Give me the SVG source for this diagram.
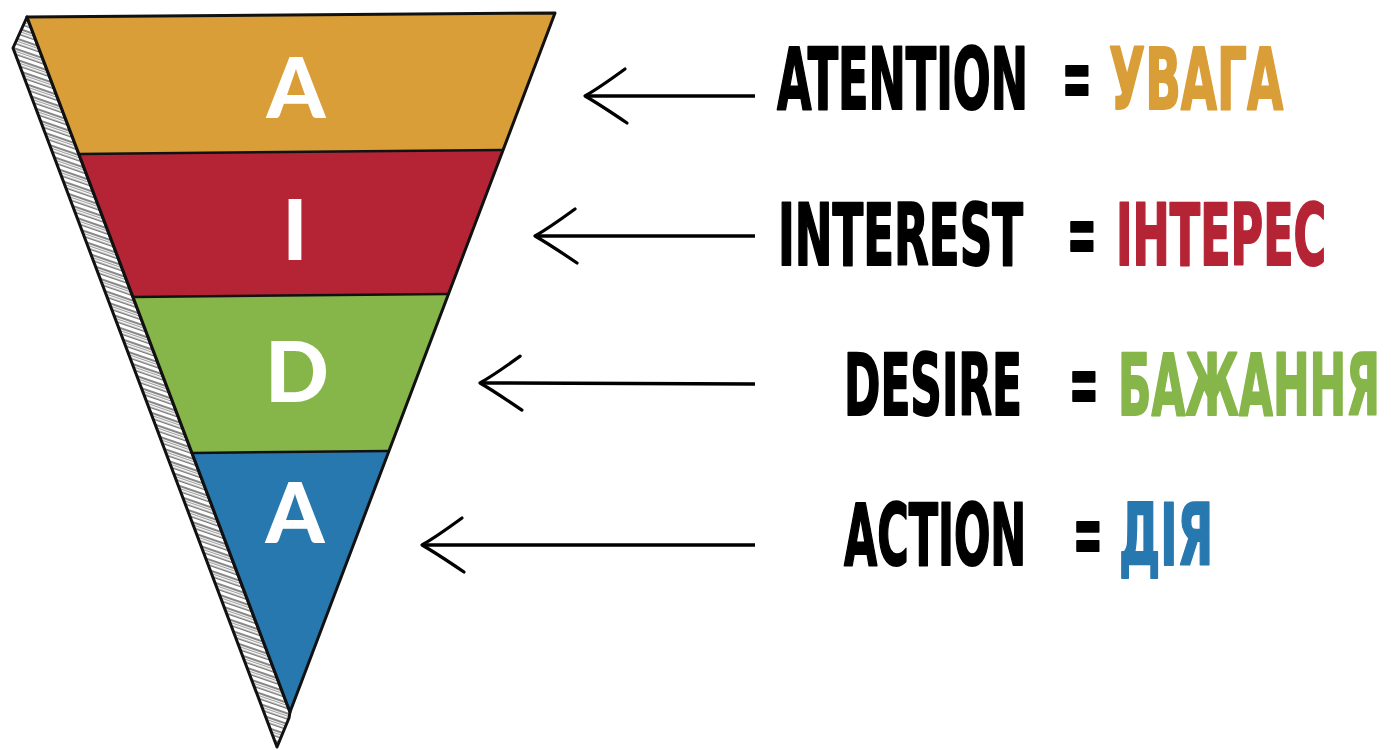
<svg xmlns="http://www.w3.org/2000/svg" width="1391" height="750" viewBox="0 0 1391 750">
  <style>
    .edge { stroke: #111; stroke-width: 3; stroke-linejoin: round; }
    .band-line { stroke: #111; stroke-width: 2.5; fill: none; }
    .letter { font-family: Lato, "Open Sans", "Liberation Sans", sans-serif; font-weight: 900; font-size: 84px; fill: #fff; text-anchor: middle; }
    .word { font-family: "Liberation Sans Narrow", "DejaVu Sans Condensed", "Liberation Sans", sans-serif; font-weight: bold; font-size: 85px; stroke-width: 2; stroke-linejoin: round; }
    .en { fill: #000; stroke: #000; }
    .eq { fill: #000; stroke: #000; }
    .c1 { fill: #D99E37; stroke: #D99E37; }
    .c2 { fill: #B52435; stroke: #B52435; }
    .c3 { fill: #86B54A; stroke: #86B54A; }
    .c4 { fill: #2878B0; stroke: #2878B0; }
    .shaft { stroke: #000; stroke-width: 3.5; fill: none; marker-start: url(#head); }
  </style>
  <defs>
    <pattern id="hatch" patternUnits="userSpaceOnUse" width="40" height="10" patternTransform="rotate(19)">
      <rect width="40" height="10" fill="#fff"/>
      <line x1="0" y1="1" x2="40" y2="1" stroke="#111" stroke-width="1.1"/>
      <line x1="0" y1="3.4" x2="40" y2="3.4" stroke="#666" stroke-width="0.7"/>
      <line x1="0" y1="6.2" x2="40" y2="6.2" stroke="#222" stroke-width="0.9"/>
    </pattern>
    <marker id="head" markerUnits="userSpaceOnUse" viewBox="-5 -32 55 64" markerWidth="55" markerHeight="64" refX="0" refY="0" orient="auto" overflow="visible">
      <path d="M40,-27 Q14,-8 0,0 Q14,8 42,27" fill="none" stroke="#000" stroke-width="3.2" stroke-linecap="round" stroke-linejoin="round"/>
    </marker>
  </defs>

  <g id="funnel-side">
    <polygon points="27,17 13,48 277,747 289,718 290,712" fill="url(#hatch)" class="edge"/>
  </g>

  <g id="stage-attention">
    <polygon points="27,17 555,13 503,150 79,154" fill="#D99E37"/>
    <text class="letter" x="296" y="118">A</text>
  </g>
  <g id="stage-interest">
    <polygon points="79,154 503,150 448.5,294 133,297" fill="#B52435"/>
    <text class="letter" x="295" y="260">I</text>
  </g>
  <g id="stage-desire">
    <polygon points="133,297 448.5,294 389,451 192,453" fill="#86B54A"/>
    <text class="letter" x="297" y="402">D</text>
  </g>
  <g id="stage-action">
    <polygon points="192,453 389,451 290,712" fill="#2878B0"/>
    <text class="letter" x="295" y="543">A</text>
  </g>
  <g id="funnel-outline">
    <polygon points="27,17 555,13 290,712" fill="none" class="edge"/>
    <line class="band-line" x1="79" y1="154" x2="503" y2="150"/>
    <line class="band-line" x1="133" y1="297" x2="448.5" y2="294"/>
    <line class="band-line" x1="192" y1="453" x2="389" y2="451"/>
  </g>

  <g id="connectors">
    <path class="shaft" d="M585,96 L755,96"/>
    <path class="shaft" d="M535,236 L755,236"/>
    <path class="shaft" d="M480,383 L755,384"/>
    <path class="shaft" d="M422,545 L755,545"/>
  </g>

  <g id="label-attention">
    <text class="word en" transform="translate(777,109) scale(0.62,1)" textLength="405" lengthAdjust="spacingAndGlyphs">ATENTION</text>
    <text class="word eq" transform="translate(1062,107) scale(0.62,1)" textLength="48" lengthAdjust="spacingAndGlyphs">=</text>
    <text class="word c1" transform="translate(1109,109) scale(0.62,1)" textLength="281" lengthAdjust="spacingAndGlyphs">УВАГА</text>
  </g>
  <g id="label-interest">
    <text class="word en" transform="translate(778,265) scale(0.62,1)" textLength="395" lengthAdjust="spacingAndGlyphs">INTEREST</text>
    <text class="word eq" transform="translate(1067,263) scale(0.62,1)" textLength="48" lengthAdjust="spacingAndGlyphs">=</text>
    <text class="word c2" transform="translate(1116,265) scale(0.62,1)" textLength="339" lengthAdjust="spacingAndGlyphs">ІНТЕРЕС</text>
  </g>
  <g id="label-desire">
    <text class="word en" transform="translate(844,415) scale(0.62,1)" textLength="287" lengthAdjust="spacingAndGlyphs">DESIRE</text>
    <text class="word eq" transform="translate(1069,413) scale(0.62,1)" textLength="48" lengthAdjust="spacingAndGlyphs">=</text>
    <text class="word c3" transform="translate(1118,415) scale(0.5,1)" textLength="524" lengthAdjust="spacingAndGlyphs">БАЖАННЯ</text>
  </g>
  <g id="label-action">
    <text class="word en" transform="translate(844,565) scale(0.62,1)" textLength="294" lengthAdjust="spacingAndGlyphs">ACTION</text>
    <text class="word eq" transform="translate(1073,563) scale(0.62,1)" textLength="48" lengthAdjust="spacingAndGlyphs">=</text>
    <text class="word c4" transform="translate(1119,565) scale(0.62,1)" textLength="152" lengthAdjust="spacingAndGlyphs">ДІЯ</text>
  </g>
</svg>
